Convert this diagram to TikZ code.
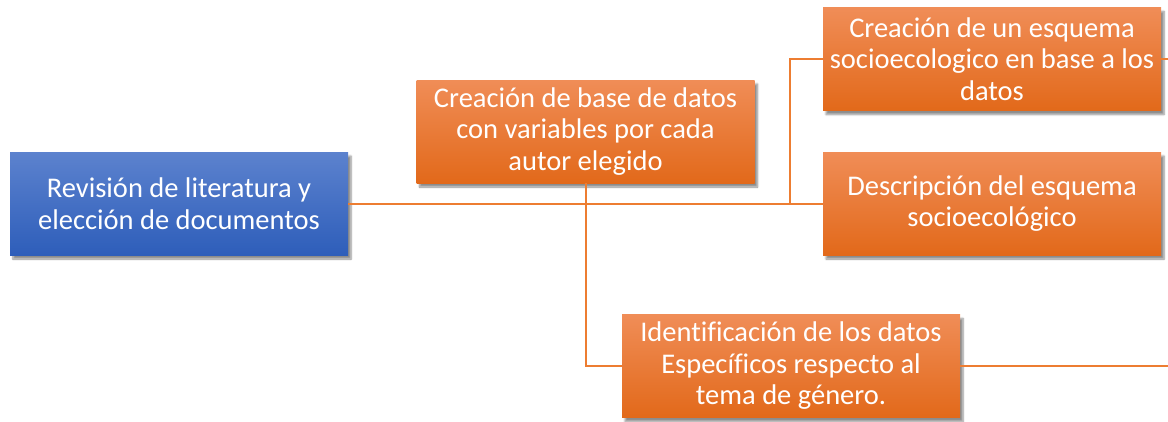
\documentclass[tikz,border=0pt]{standalone}
\usepackage{fontspec}
\setmainfont{Carlito}[Ligatures={NoCommon}]
\usetikzlibrary{shadows.blur}
\definecolor{orTop}{HTML}{F08D57}
\definecolor{orBot}{HTML}{E2691A}
\definecolor{blTop}{HTML}{5C82CE}
\definecolor{blBot}{HTML}{2E5EBA}
\definecolor{conn}{HTML}{ED7D31}
\tikzset{
  box/.style={minimum width=338pt, minimum height=103pt, inner sep=0pt, align=center,
    text=white, font=\fontsize{28.5}{31.5}\selectfont,
    blur shadow={shadow xshift=3pt, shadow yshift=-4pt, shadow blur steps=6, shadow opacity=45}},
  orbox/.style={box, top color=orTop, bottom color=orBot},
  blbox/.style={box, top color=blTop, bottom color=blBot},
  link/.style={draw=conn, line width=2pt}
}
\begin{document}
\begin{tikzpicture}[x=1pt,y=-1pt]
\useasboundingbox (0,0) rectangle (1168,421);
\node[blbox] (rev) at (179,203.5) {Revisión de literatura y\\elección de documentos};
\node[orbox] (base) at (585.5,131.5) {Creación de base de datos\\con variables por cada\\autor elegido};
\node[orbox] (esq) at (992,59) {Creación de un esquema\\socioecologico en base a los\\datos};
\node[orbox] (desc) at (992,203.5) {Descripción del esquema\\socioecológico};
\node[orbox] (ident) at (791,366) {Identificación de los datos\\Específicos respecto al\\tema de género.};
\coordinate (j) at (790,203.5);
\coordinate (e3) at (1168,59);
\coordinate (e5) at (1168,366);
\draw[link] (rev.east) -- (desc.west);
\draw[link] (base.south) |- (ident.west);
\draw[link] (j) |- (esq.west);
\draw[link] (esq.east) -- (e3);
\draw[link] (ident.east) -- (e5);
\end{tikzpicture}
\end{document}
